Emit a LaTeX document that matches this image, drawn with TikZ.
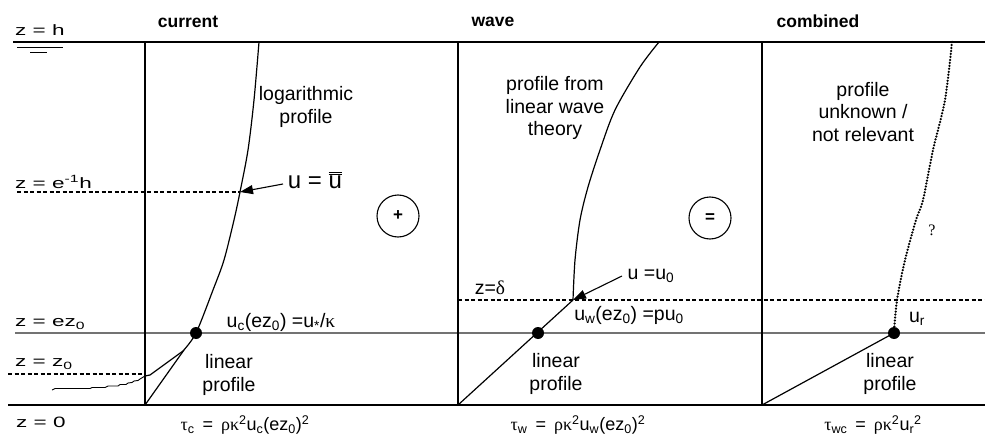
\documentclass[tikz,border=0pt]{standalone}
\usepackage{fontspec}
\usepackage{graphicx}
\setmainfont{Liberation Sans}
\newfontfamily\grk{Liberation Serif}
\usetikzlibrary{arrows.meta}
\tikzset{
  lbl/.style={font=\fontsize{19.5}{22.5}\selectfont, align=center, inner sep=0pt},
  ttl/.style={font=\fontsize{17.5}{20}\selectfont\bfseries, inner sep=0pt},
  zlbl/.style={font=\fontsize{15}{18}\selectfont, anchor=west, inner sep=0pt},
  frm/.style={font=\fontsize{18}{21}\selectfont, inner sep=0pt},
  mainline/.style={line width=1.4pt, black},
  vline/.style={line width=1.2pt, black},
  greyline/.style={line width=1.2pt, black!55},
  dashline/.style={line width=1.1pt, dash pattern=on 4pt off 2.5pt},
  prof/.style={line width=1.2pt},
  dotprof/.style={line width=2.5pt, line cap=round, dash pattern=on 0pt off 3pt},
  bigdot/.style={circle, fill=black, minimum size=12pt, inner sep=0pt},
  opcirc/.style={circle, draw, line width=1.1pt, minimum size=42pt, inner sep=0pt, font=\fontsize{17}{19}\selectfont\bfseries},
  arr/.style={line width=1.1pt, -{Triangle[length=13pt,width=9pt]}}
}
\begin{document}
\begin{tikzpicture}[x=1pt,y=-1pt]
\useasboundingbox (0,0) rectangle (985,441);
% titles
\node[ttl] (tc) at (188,22) {current};
\node[ttl] (tw) at (493,22) {wave};
\node[ttl] (tm) at (818,21) {combined};
% horizontal lines
\coordinate (topL) at (13,42); \coordinate (topR) at (985,42);
\coordinate (botL) at (8,405); \coordinate (botR) at (985,405);
\coordinate (ezL) at (15,333); \coordinate (ezR) at (985,333);
\draw[mainline] (topL) -- (topR);
\draw[mainline] (botL) -- (botR);
\draw[greyline] (ezL) -- (ezR);
% water level symbol
\coordinate (wl1a) at (17,48); \coordinate (wl1b) at (63,48);
\coordinate (wl2a) at (30,53); \coordinate (wl2b) at (47,53);
\draw[line width=1pt] (wl1a) -- (wl1b);
\draw[line width=1pt] (wl2a) -- (wl2b);
% verticals
\coordinate (c0) at (145,405); \coordinate (c1) at (145,42);
\coordinate (w0) at (458,405); \coordinate (w1) at (458,42);
\coordinate (m0) at (762,405); \coordinate (m1) at (762,42);
\draw[vline] (c0) -- (c1);
\draw[vline] (w0) -- (w1);
\draw[vline] (m0) -- (m1);
% left labels
\node[zlbl] (zh) at (15,30) {\scalebox{1.5}[1]{z = h}};
\node[zlbl] (ze1h) at (15,182) {\scalebox{1.5}[1]{z = e\textsuperscript{-1}h}};
\node[zlbl] (zez) at (15,324) {\scalebox{1.5}[1]{z = ez\textsubscript{0}}};
\node[zlbl] (zz0) at (15,364) {\scalebox{1.5}[1]{z = z\textsubscript{0}}};
\node[zlbl] (z0) at (16,422) {\scalebox{1.5}[1]{z = 0}};
% dashed lines
\coordinate (eL) at (17,192); \coordinate (eR) at (240,192);
\draw[dashline] (eL) -- (eR);
\coordinate (zL) at (8,374); \coordinate (zR) at (145,374);
\draw[dashline] (zL) -- (zR);
\coordinate (dL) at (458,300); \coordinate (dR) at (985,300);
\draw[dashline] (dL) -- (dR);
% wavy roughness line
\draw[line width=0.9pt] (52,390) -- (55,388.5) -- (90,388.5) -- (92,387.5) -- (105,387.5) -- (108,386) -- (118,386) -- (120,384.5) -- (126,384.5) -- (128,383) -- (132,382.5) -- (134,381) -- (138,380.5) -- (140,379) -- (145,376);
% current profile
\draw[prof] plot[smooth] coordinates {(259,42) (254,100) (248,150) (240,192) (234,220) (224,260) (213,290) (196,333) (183,351)} -- (150,375) -- (145,376);
\coordinate (clin) at (184,350);
\draw[prof] (c0) -- (clin);
\node[bigdot] (dc) at (196,333) {};
% wave profile
\draw[prof] plot[smooth] coordinates {(659,42) (640,67) (615,110) (600,150) (588,187) (580,220) (575,260) (573,300)};
\coordinate (wtip) at (573,300);
\draw[prof] (w0) -- (wtip);
\node[bigdot] (dw) at (538,333) {};
% combined profile
\draw[dotprof] plot[smooth] coordinates {(952,42) (945,100) (933,150) (923,200) (916,220) (905,260) (897,300) (894,333)};
\node[bigdot] (dm) at (894,333) {};
\draw[prof] (m0) -- (dm.center);
% operator circles
\node[opcirc] (plus) at (398,216) {+};
\node[opcirc] (eq) at (710,218) {=};
% labels current
\node[lbl] (logp) at (306,107) {logarithmic\\profile};
\node[font=\fontsize{24}{26}\selectfont, inner sep=0pt] (ubar) at (315,180) {u = $\overline{\overline{\mbox{u}}}$};
\draw[arr] (283,184) -- (eR);
\node[lbl] (ucl) at (281,322) {u\textsubscript{c}(ez\textsubscript{0}) =u\textsubscript{*}/{\grk κ}};
\node[lbl] (linc) at (229,375) {linear\\profile};
% labels wave
\node[lbl] (pflw) at (555,108) {profile from\\linear wave\\theory};
\node[lbl] (zd) at (490,288) {z={\grk δ}};
\node[lbl] (uu0) at (651,276) {u =u\textsubscript{0}};
\draw[arr] (622,276) -- (wtip);
\node[lbl] (uwl) at (629,315) {u\textsubscript{w}(ez\textsubscript{0}) =pu\textsubscript{0}};
\node[lbl] (linw) at (556,374) {linear\\profile};
% labels combined
\node[lbl] (pun) at (863,112) {profile\\unknown /\\not relevant};
\node[font=\fontsize{16}{18}\selectfont\grk, inner sep=0pt] (qm) at (932,230) {?};
\node[lbl] (ur) at (917,319) {u\textsubscript{r}};
\node[lbl] (linm) at (890,374) {linear\\profile};
% formulas
\node[frm] (fc) at (245,425) {{\grk τ}\textsubscript{c} \,=\, {\grk ρκ}\textsuperscript{2}u\textsubscript{c}(ez\textsubscript{0})\textsuperscript{2}};
\node[frm] (fw) at (578,425) {{\grk τ}\textsubscript{w} \,=\, {\grk ρκ}\textsuperscript{2}u\textsubscript{w}(ez\textsubscript{0})\textsuperscript{2}};
\node[frm] (fm) at (873,425) {{\grk τ}\textsubscript{wc} \,=\, {\grk ρκ}\textsuperscript{2}u\textsubscript{r}\textsuperscript{2}};
\end{tikzpicture}
\end{document}
